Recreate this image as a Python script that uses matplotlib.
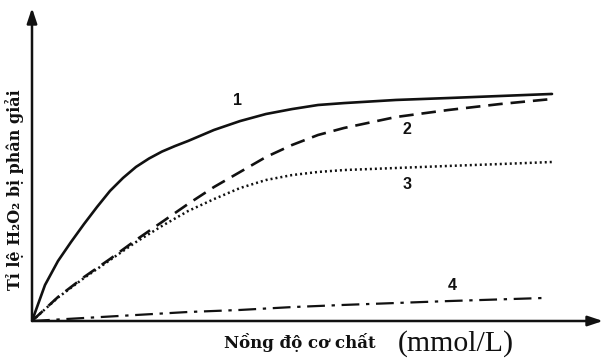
import matplotlib
matplotlib.use("Agg")
import matplotlib.pyplot as plt

# substrate concentration (arbitrary units)
conc1 = [0, 0.25, 0.5, 0.75, 1, 1.25, 1.5, 1.75, 2, 2.25, 2.5, 2.75, 3, 3.5, 4, 4.5, 5,
         5.5, 6, 7, 8, 9, 10]
curve1 = [0, 0.15, 0.25, 0.329, 0.404, 0.475, 0.542, 0.596, 0.642, 0.677, 0.706, 0.729,
          0.75, 0.796, 0.833, 0.8625, 0.883, 0.9, 0.908, 0.921, 0.929, 0.9375, 0.946]

conc23 = [0, 0.5, 1, 1.5, 2, 2.5, 3, 3.5, 4, 4.5, 5, 5.5, 6, 7, 8, 9, 10]
curve2 = [0, 0.1, 0.183, 0.2583, 0.3375, 0.4125, 0.4875, 0.5583, 0.6208, 0.6833,
          0.7333, 0.775, 0.8042, 0.85, 0.879, 0.904, 0.925]
curve3 = [0, 0.098, 0.179, 0.254, 0.329, 0.396, 0.458, 0.508, 0.554, 0.5875, 0.608,
          0.621, 0.629, 0.6375, 0.646, 0.654, 0.6625]

# curve 4 (no enzyme) stops a little earlier
conc4 = [0, 1, 2, 3, 4, 5, 6, 7, 8, 9, 9.85]
curve4 = [0, 0.0125, 0.025, 0.0375, 0.046, 0.058, 0.067, 0.075, 0.083, 0.090, 0.096]

W, H = 607, 362
fig = plt.figure(figsize=(W / 100, H / 100), dpi=100)
fig.patch.set_facecolor("white")

# origin of the axes at pixel (32, 321), arrows reach (603, 8)
ax = fig.add_axes([32 / W, 41 / H, (603 - 32) / W, (321 - 8) / H])
ax.set_xlim(0, 571 / 52)
ax.set_ylim(0, 313 / 240)
ax.axis("off")

ink = "#111111"
ax.plot(conc1, curve1, color=ink, lw=1.9, solid_joinstyle="round", solid_capstyle="round")
ax.plot(conc23, curve2, color=ink, lw=1.9, dashes=(5.5, 3), dash_joinstyle="round")
ax.plot(conc23, curve3, color=ink, lw=1.8, dashes=(0.8, 1.2), dash_joinstyle="round")
ax.plot(conc4, curve4, color=ink, lw=1.6, dashes=(8, 3, 1.5, 3))

# axis arrows
arrow = dict(arrowstyle="-|>,head_length=0.9,head_width=0.3", color=ink, lw=1.8,
             shrinkA=0, shrinkB=0)
ax.annotate("", xy=(1, 0), xytext=(0, 0), xycoords="axes fraction", arrowprops=arrow)
ax.annotate("", xy=(0, 1), xytext=(0, 0), xycoords="axes fraction", arrowprops=arrow)

# curve numbers
num = dict(fontsize=11.5, fontweight="bold", family="Liberation Sans", color=ink,
           ha="center", va="center")
ax.text(3.96, 0.917, "1", **num)
ax.text(7.21, 0.796, "2", **num)
ax.text(7.21, 0.567, "3", **num)
ax.text(8.08, 0.15, "4", **num)

serif = ["DejaVu Serif"]
fig.text(15 / W, 1 - 190 / H, "Tỉ lệ H₂O₂ bị phân giải", rotation=90, family=serif,
         fontweight="bold", fontsize=11.5, ha="center", va="center", color=ink)
fig.text(300 / W, 1 - 342 / H, "Nồng độ cơ chất", family=serif, fontweight="bold",
         fontsize=12, ha="center", va="center", color=ink)
fig.text(456 / W, 1 - 344 / H, "(mmol/L)", family=["Liberation Serif", "DejaVu Serif"],
         fontsize=21.5, ha="center", va="center", color=ink)

fig.savefig("out.png", dpi=100, facecolor="white")
